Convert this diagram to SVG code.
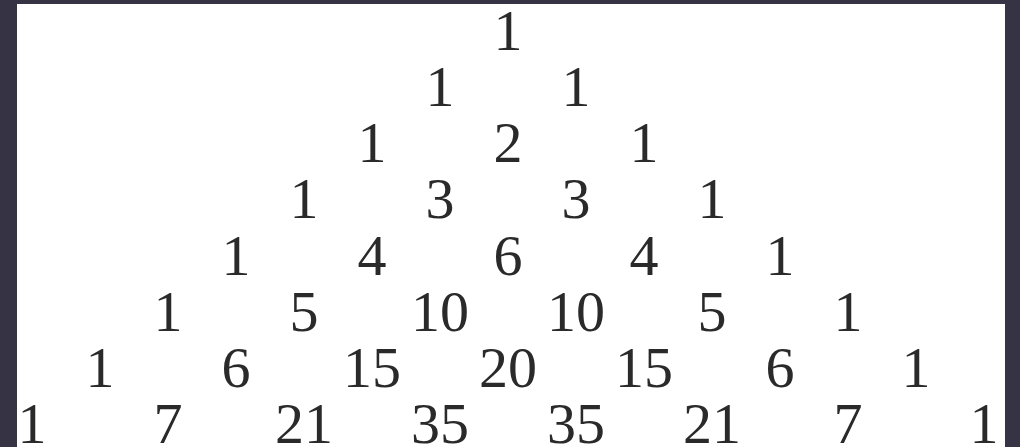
<svg xmlns="http://www.w3.org/2000/svg" width="1020" height="447" viewBox="0 0 1020 447">
<style>
text{font-family:"Liberation Serif","DejaVu Serif",serif;font-size:58px;fill:#2a2a2a;text-anchor:middle}
</style>
<rect x="0" y="0" width="1020" height="447" fill="#363345"/>
<rect x="17" y="4" width="988" height="443" fill="#ffffff"/>
<g id="row1"><text x="508" y="50">1</text></g>
<g id="row2"><text x="440" y="106">1</text><text x="576" y="106">1</text></g>
<g id="row3"><text x="372" y="162">1</text><text x="508" y="162">2</text><text x="644" y="162">1</text></g>
<g id="row4"><text x="304" y="218">1</text><text x="440" y="218">3</text><text x="576" y="218">3</text><text x="712" y="218">1</text></g>
<g id="row5"><text x="236" y="275">1</text><text x="372" y="275">4</text><text x="508" y="275">6</text><text x="644" y="275">4</text><text x="780" y="275">1</text></g>
<g id="row6"><text x="168" y="331">1</text><text x="304" y="331">5</text><text x="440" y="331">10</text><text x="576" y="331">10</text><text x="712" y="331">5</text><text x="848" y="331">1</text></g>
<g id="row7"><text x="100" y="387">1</text><text x="236" y="387">6</text><text x="372" y="387">15</text><text x="508" y="387">20</text><text x="644" y="387">15</text><text x="780" y="387">6</text><text x="916" y="387">1</text></g>
<g id="row8"><text x="32" y="443">1</text><text x="168" y="443">7</text><text x="304" y="443">21</text><text x="440" y="443">35</text><text x="576" y="443">35</text><text x="712" y="443">21</text><text x="848" y="443">7</text><text x="984" y="443">1</text></g>
</svg>
